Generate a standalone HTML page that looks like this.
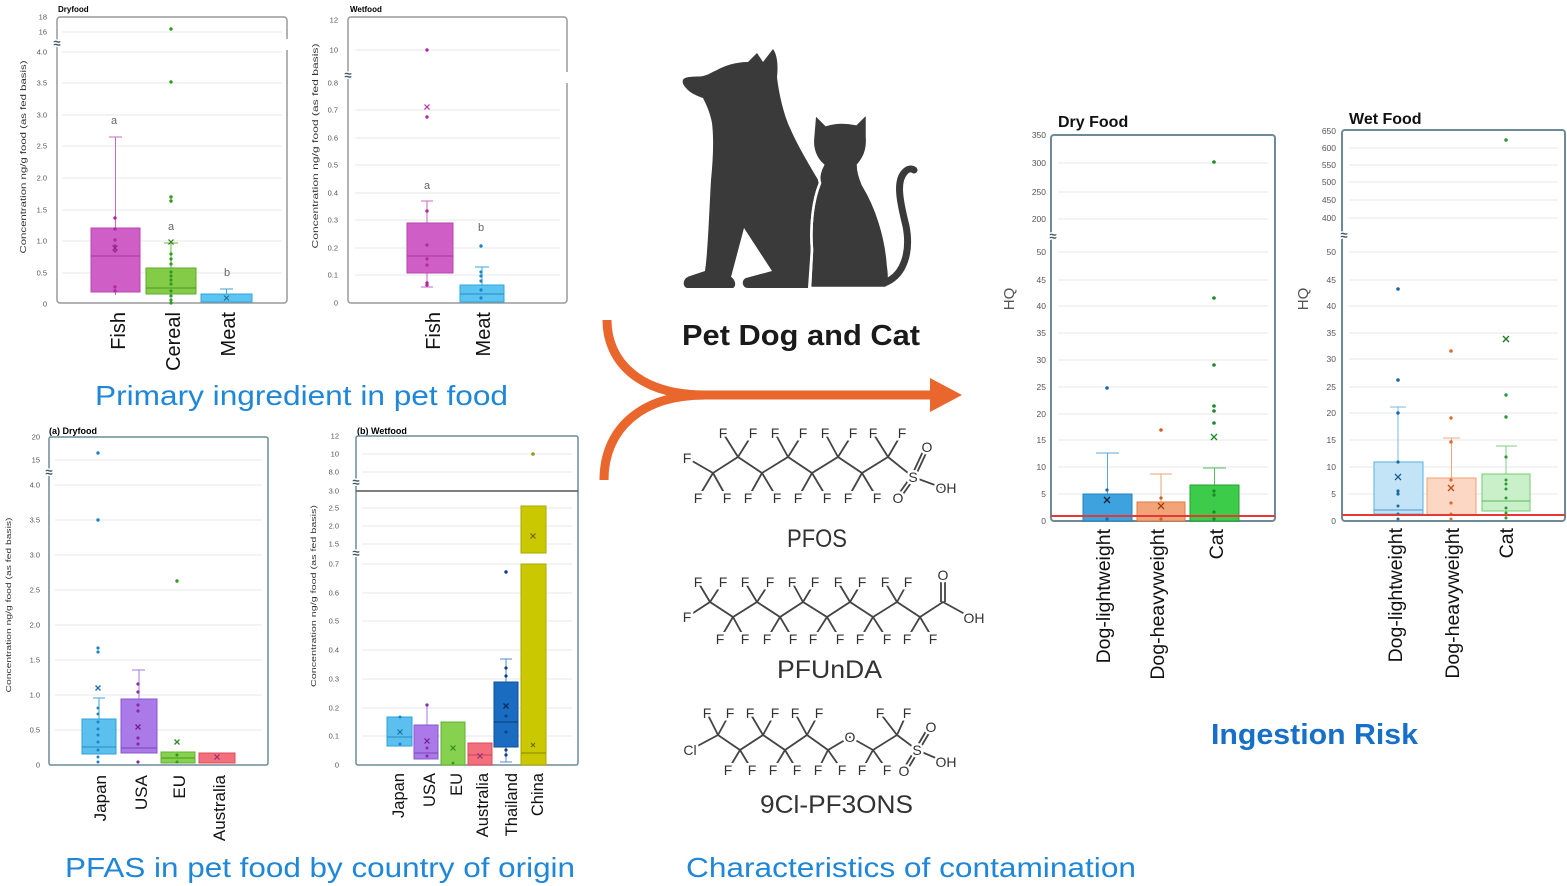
<!DOCTYPE html>
<html><head><meta charset="utf-8">
<style>
html,body{margin:0;padding:0;background:#fff;}
svg{display:block;font-family:"Liberation Sans",Arial,sans-serif;}
.tk{font-size:7.5px;fill:#555;text-anchor:end;}
.tk2{font-size:8.5px;fill:#555;text-anchor:end;}
.g line{stroke:#e7e7e7;stroke-width:1;}
.brk{font-size:13px;fill:#3b5566;font-weight:bold;stroke:#fff;stroke-width:3;paint-order:stroke;text-anchor:middle;dominant-baseline:central;}
.lab{font-size:14px;fill:#333;text-anchor:middle;dominant-baseline:central;stroke:#fff;stroke-width:5;paint-order:stroke;}
.xl{text-anchor:end;fill:#111;}
</style></head>
<body>
<svg width="1567" height="886" viewBox="0 0 1567 886" xmlns="http://www.w3.org/2000/svg">

<!-- ============ Chart 1: Dryfood by ingredient ============ -->
<text x="58" y="12" font-size="8" font-weight="bold">Dryfood</text>
<g class="g">
<line x1="62" x2="282" y1="32" y2="32"/><line x1="62" x2="282" y1="52" y2="52"/><line x1="62" x2="282" y1="83" y2="83"/>
<line x1="62" x2="282" y1="115" y2="115"/><line x1="62" x2="282" y1="146" y2="146"/><line x1="62" x2="282" y1="178" y2="178"/>
<line x1="62" x2="282" y1="210" y2="210"/><line x1="62" x2="282" y1="241" y2="241"/><line x1="62" x2="282" y1="273" y2="273"/>
</g>
<rect x="57" y="17" width="230" height="286" rx="3" fill="none" stroke="#9a9a9a" stroke-width="1.5"/>
<rect x="283" y="39" width="8" height="11" fill="#fff"/>
<g class="tk">
<text x="47" y="19.5">18</text><text x="47" y="34.5">16</text><text x="47" y="54.5">4.0</text><text x="47" y="85.5">3.5</text>
<text x="47" y="117.5">3.0</text><text x="47" y="148.5">2.5</text><text x="47" y="180.5">2.0</text><text x="47" y="212.5">1.5</text>
<text x="47" y="243.5">1.0</text><text x="47" y="275.5">0.5</text><text x="47" y="306.5">0</text>
</g>
<text class="brk" x="57" y="43">≈</text>
<text transform="translate(26,157) rotate(-90)" text-anchor="middle" font-size="8.5" fill="#333" textLength="193" lengthAdjust="spacingAndGlyphs">Concentration ng/g food (as fed basis)</text>
<!-- Fish -->
<g stroke="#cc66c4" stroke-width="1"><line x1="115.5" y1="228" x2="115.5" y2="137"/><line x1="109" y1="137" x2="122" y2="137"/><line x1="115.5" y1="292" x2="115.5" y2="295"/></g>
<rect x="91" y="228" width="49" height="64" fill="#cf5ec7" stroke="#b845b0"/>
<line x1="91" y1="256" x2="140" y2="256" stroke="#a33a9b"/>
<g fill="#b02aa8"><circle cx="115" cy="218" r="1.7"/><circle cx="115" cy="229" r="1.7"/><circle cx="115" cy="240" r="1.7"/><circle cx="115" cy="246" r="1.7"/><circle cx="115" cy="251" r="1.7"/><circle cx="115" cy="287" r="1.7"/><circle cx="115" cy="291" r="1.7"/></g>
<path d="M112.5 245.5l5 5M112.5 250.5l5-5" stroke="#8a2a84" stroke-width="1.2"/>
<!-- Cereal -->
<g stroke="#6ab83a" stroke-width="1"><line x1="171" y1="268" x2="171" y2="243"/><line x1="164" y1="243" x2="178" y2="243"/></g>
<rect x="146" y="268" width="50" height="26" fill="#84cc48" stroke="#5ea82e"/>
<line x1="146" y1="288" x2="196" y2="288" stroke="#4e9426"/>
<g fill="#2f9a20"><circle cx="171" cy="29" r="1.7"/><circle cx="171" cy="82" r="1.7"/><circle cx="171" cy="197" r="1.7"/><circle cx="171" cy="201" r="1.7"/><circle cx="171" cy="254" r="1.6"/><circle cx="171" cy="259" r="1.6"/><circle cx="171" cy="264" r="1.6"/><circle cx="171" cy="272" r="1.6"/><circle cx="171" cy="276" r="1.6"/><circle cx="171" cy="280" r="1.6"/><circle cx="171" cy="284" r="1.6"/><circle cx="171" cy="291" r="1.6"/><circle cx="171" cy="296" r="1.6"/><circle cx="171" cy="300" r="1.6"/><circle cx="171" cy="303" r="1.6"/></g>
<path d="M168.5 239.5l5 5M168.5 244.5l5-5" stroke="#2f7a20" stroke-width="1.2"/>
<!-- Meat -->
<g stroke="#3aa6dc" stroke-width="1"><line x1="226.5" y1="294" x2="226.5" y2="289"/><line x1="220" y1="289" x2="233" y2="289"/></g>
<rect x="201" y="294" width="51" height="8" fill="#5cc4f0" stroke="#33a4dc"/>
<path d="M224 295.5l5 5M224 300.5l5-5" stroke="#1b6ea0" stroke-width="1.1"/>
<g font-size="11" fill="#666" text-anchor="middle"><text x="114" y="124">a</text><text x="171" y="230">a</text><text x="227" y="276">b</text></g>
<g class="xl" font-size="20">
<text transform="translate(125,312) rotate(-90)">Fish</text>
<text transform="translate(180,312) rotate(-90)">Cereal</text>
<text transform="translate(235,312) rotate(-90)">Meat</text>
</g>

<!-- ============ Chart 2: Wetfood by ingredient ============ -->
<text x="350" y="12" font-size="8" font-weight="bold">Wetfood</text>
<g class="g">
<line x1="355" x2="560" y1="50" y2="50"/><line x1="355" x2="560" y1="110" y2="110"/><line x1="355" x2="560" y1="138" y2="138"/>
<line x1="355" x2="560" y1="165" y2="165"/><line x1="355" x2="560" y1="193" y2="193"/><line x1="355" x2="560" y1="220" y2="220"/>
<line x1="355" x2="560" y1="248" y2="248"/><line x1="355" x2="560" y1="275" y2="275"/>
</g>
<rect x="348" y="17" width="219" height="286" rx="3" fill="none" stroke="#9a9a9a" stroke-width="1.5"/>
<rect x="563" y="72" width="8" height="11" fill="#fff"/>
<g class="tk">
<text x="338" y="22.5">12</text><text x="338" y="52.5">10</text><text x="338" y="85.5">0.8</text><text x="338" y="112.5">0.7</text>
<text x="338" y="140.5">0.6</text><text x="338" y="167.5">0.5</text><text x="338" y="195.5">0.4</text><text x="338" y="222.5">0.3</text>
<text x="338" y="250.5">0.2</text><text x="338" y="277.5">0.1</text><text x="338" y="305.5">0</text>
</g>
<text class="brk" x="348" y="75">≈</text>
<text transform="translate(318,146) rotate(-90)" text-anchor="middle" font-size="8.5" fill="#333" textLength="205" lengthAdjust="spacingAndGlyphs">Concentration ng/g food (as fed basis)</text>
<g stroke="#cc66c4" stroke-width="1"><line x1="427" y1="223" x2="427" y2="201"/><line x1="421" y1="201" x2="433" y2="201"/><line x1="427" y1="273" x2="427" y2="287"/><line x1="421" y1="287" x2="433" y2="287"/></g>
<rect x="407" y="223" width="46" height="50" fill="#cf5ec7" stroke="#b845b0"/>
<line x1="407" y1="256" x2="453" y2="256" stroke="#a33a9b"/>
<g fill="#b02aa8"><circle cx="427" cy="50" r="1.7"/><circle cx="427" cy="117" r="1.7"/><circle cx="427" cy="211" r="1.7"/><circle cx="427" cy="245" r="1.6"/><circle cx="427" cy="259" r="1.6"/><circle cx="427" cy="265" r="1.6"/><circle cx="427" cy="283" r="1.7"/><circle cx="427" cy="285" r="1.7"/></g>
<path d="M424.5 104.5l5 5M424.5 109.5l5-5" stroke="#b02aa8" stroke-width="1.2"/>
<g stroke="#3aa6dc" stroke-width="1"><line x1="482" y1="285" x2="482" y2="267"/><line x1="475" y1="267" x2="489" y2="267"/></g>
<rect x="460" y="285" width="44" height="17" fill="#5cc4f0" stroke="#33a4dc"/>
<line x1="460" y1="294" x2="504" y2="294" stroke="#2a8cc0"/>
<g fill="#1a86c8"><circle cx="481" cy="246" r="1.7"/><circle cx="481" cy="272" r="1.6"/><circle cx="481" cy="276" r="1.6"/><circle cx="481" cy="281" r="1.6"/><circle cx="481" cy="290" r="1.6"/><circle cx="481" cy="298" r="1.6"/></g>
<g font-size="11" fill="#666" text-anchor="middle"><text x="427" y="189">a</text><text x="481" y="231">b</text></g>
<g class="xl" font-size="20">
<text transform="translate(440,312) rotate(-90)">Fish</text>
<text transform="translate(490,312) rotate(-90)">Meat</text>
</g>

<text x="95" y="405" font-size="28" fill="#1f86d8" textLength="413" lengthAdjust="spacingAndGlyphs">Primary ingredient in pet food</text>

<!-- ============ Chart 3: (a) Dryfood by country ============ -->
<text x="49" y="434" font-size="9" font-weight="bold">(a) Dryfood</text>
<g class="g">
<line x1="55" x2="262" y1="460" y2="460"/><line x1="55" x2="262" y1="485" y2="485"/><line x1="55" x2="262" y1="520" y2="520"/>
<line x1="55" x2="262" y1="555" y2="555"/><line x1="55" x2="262" y1="590" y2="590"/><line x1="55" x2="262" y1="625" y2="625"/>
<line x1="55" x2="262" y1="660" y2="660"/><line x1="55" x2="262" y1="695" y2="695"/><line x1="55" x2="262" y1="730" y2="730"/>
</g>
<rect x="49" y="437" width="219" height="328" rx="2" fill="none" stroke="#6d8a99" stroke-width="1.5"/>
<g class="tk">
<text x="40" y="439.5">20</text><text x="40" y="462.5">15</text><text x="40" y="487.5">4.0</text><text x="40" y="522.5">3.5</text>
<text x="40" y="557.5">3.0</text><text x="40" y="592.5">2.5</text><text x="40" y="627.5">2.0</text><text x="40" y="662.5">1.5</text>
<text x="40" y="697.5">1.0</text><text x="40" y="732.5">0.5</text><text x="40" y="767.5">0</text>
</g>
<text class="brk" x="49" y="472">≈</text>
<text transform="translate(11,605) rotate(-90)" text-anchor="middle" font-size="7.5" fill="#333" textLength="175" lengthAdjust="spacingAndGlyphs">Concentration ng/g food (as fed basis)</text>
<!-- Japan -->
<g stroke="#3aa6dc"><line x1="99" y1="719" x2="99" y2="698"/><line x1="93" y1="698" x2="105" y2="698"/></g>
<rect x="82" y="719" width="34" height="35" fill="#5bc0ee" stroke="#2ea0d8"/>
<line x1="82" y1="747" x2="116" y2="747" stroke="#2a8cc0"/>
<g fill="#1a86c8"><circle cx="98" cy="453" r="1.7"/><circle cx="98" cy="520" r="1.7"/><circle cx="98" cy="648" r="1.6"/><circle cx="98" cy="652" r="1.6"/><circle cx="98" cy="708" r="1.5"/><circle cx="98" cy="714" r="1.5"/><circle cx="98" cy="722" r="1.5"/><circle cx="98" cy="729" r="1.5"/><circle cx="98" cy="735" r="1.5"/><circle cx="98" cy="742" r="1.5"/><circle cx="98" cy="750" r="1.5"/><circle cx="98" cy="757" r="1.5"/><circle cx="98" cy="762" r="1.5"/></g>
<path d="M95.5 685.5l5 5M95.5 690.5l5-5" stroke="#1a70b0" stroke-width="1.3"/>
<!-- USA -->
<g stroke="#a57ad8"><line x1="139" y1="699" x2="139" y2="670"/><line x1="132" y1="670" x2="145" y2="670"/></g>
<rect x="121" y="699" width="36" height="54" fill="#a97ae8" stroke="#8a55cc"/>
<line x1="121" y1="748" x2="157" y2="748" stroke="#7a45bc"/>
<g fill="#8a2aa8"><circle cx="138" cy="684" r="1.6"/><circle cx="138" cy="692" r="1.6"/><circle cx="138" cy="705" r="1.6"/><circle cx="138" cy="711" r="1.6"/><circle cx="138" cy="738" r="1.6"/><circle cx="138" cy="744" r="1.6"/><circle cx="138" cy="762" r="1.6"/></g>
<path d="M135.5 724.5l5 5M135.5 729.5l5-5" stroke="#7a1a90" stroke-width="1.3"/>
<!-- EU -->
<rect x="161" y="752" width="34" height="11" fill="#86d24e" stroke="#60b030"/>
<line x1="161" y1="758" x2="195" y2="758" stroke="#4e9426"/>
<g fill="#2f9a20"><circle cx="177" cy="581" r="1.7"/><circle cx="177" cy="755" r="1.5"/><circle cx="177" cy="762" r="1.5"/></g>
<path d="M174.5 739.5l5 5M174.5 744.5l5-5" stroke="#2f8a20" stroke-width="1.3"/>
<!-- Australia -->
<rect x="199" y="753" width="36" height="10" fill="#f2707c" stroke="#e04858"/>
<path d="M214.5 754.5l5 5M214.5 759.5l5-5" stroke="#9a2a7a" stroke-width="1.2"/>
<g class="xl" font-size="17">
<text transform="translate(106,775) rotate(-90)">Japan</text>
<text transform="translate(147,775) rotate(-90)">USA</text>
<text transform="translate(185,775) rotate(-90)">EU</text>
<text transform="translate(225,775) rotate(-90)">Australia</text>
</g>

<!-- ============ Chart 4: (b) Wetfood by country ============ -->
<text x="357" y="434" font-size="9" font-weight="bold">(b) Wetfood</text>
<g class="g">
<line x1="362" x2="572" y1="454" y2="454"/><line x1="362" x2="572" y1="472" y2="472"/><line x1="362" x2="572" y1="508" y2="508"/>
<line x1="362" x2="572" y1="526" y2="526"/><line x1="362" x2="572" y1="544" y2="544"/><line x1="362" x2="572" y1="564" y2="564"/>
<line x1="362" x2="572" y1="593" y2="593"/><line x1="362" x2="572" y1="621" y2="621"/><line x1="362" x2="572" y1="650" y2="650"/>
<line x1="362" x2="572" y1="679" y2="679"/><line x1="362" x2="572" y1="708" y2="708"/><line x1="362" x2="572" y1="736" y2="736"/>
</g>
<rect x="356" y="436" width="222" height="329" rx="2" fill="none" stroke="#6d8a99" stroke-width="1.5"/>
<line x1="356" y1="491" x2="578" y2="491" stroke="#555" stroke-width="1.5"/>
<g class="tk">
<text x="339" y="438.5">12</text><text x="339" y="456.5">10</text><text x="339" y="474.5">8.0</text><text x="339" y="493.5">3.0</text>
<text x="339" y="510.5">2.5</text><text x="339" y="528.5">2.0</text><text x="339" y="546.5">1.5</text><text x="339" y="566.5">0.7</text>
<text x="339" y="595.5">0.6</text><text x="339" y="623.5">0.5</text><text x="339" y="652.5">0.4</text><text x="339" y="681.5">0.3</text>
<text x="339" y="710.5">0.2</text><text x="339" y="738.5">0.1</text><text x="339" y="767.5">0</text>
</g>
<text class="brk" x="356" y="482">≈</text>
<text class="brk" x="356" y="553">≈</text>
<text transform="translate(316,596) rotate(-90)" text-anchor="middle" font-size="7.5" fill="#333" textLength="182" lengthAdjust="spacingAndGlyphs">Concentration ng/g food (as fed basis)</text>
<!-- Japan -->
<rect x="387" y="717" width="25" height="29" fill="#5bc0ee" stroke="#2ea0d8"/>
<line x1="387" y1="737" x2="412" y2="737" stroke="#2a8cc0"/>
<g fill="#1a86c8"><circle cx="400" cy="717" r="1.5"/><circle cx="400" cy="744" r="1.5"/></g>
<path d="M397.5 729.5l5 5M397.5 734.5l5-5" stroke="#1a70b0" stroke-width="1.2"/>
<!-- USA -->
<line x1="427" y1="725" x2="427" y2="705" stroke="#a57ad8"/>
<rect x="414" y="725" width="24" height="34" fill="#a97ae8" stroke="#8a55cc"/>
<line x1="414" y1="753" x2="438" y2="753" stroke="#7a45bc"/>
<g fill="#8a2aa8"><circle cx="427" cy="705" r="1.6"/><circle cx="427" cy="748" r="1.5"/><circle cx="427" cy="756" r="1.5"/></g>
<path d="M424.5 738.5l5 5M424.5 743.5l5-5" stroke="#7a1a90" stroke-width="1.2"/>
<!-- EU -->
<rect x="441" y="722" width="24" height="43" fill="#86d24e" stroke="#60b030"/>
<path d="M450.5 745.5l5 5M450.5 750.5l5-5" stroke="#2f8a20" stroke-width="1.2"/>
<circle cx="453" cy="763" r="1.4" fill="#2f9a20"/>
<!-- Australia -->
<rect x="468" y="743" width="24" height="22" fill="#f2707c" stroke="#e04858"/>
<line x1="468" y1="755" x2="492" y2="755" stroke="#d04050"/>
<path d="M477.5 753.5l5 5M477.5 758.5l5-5" stroke="#9a2a7a" stroke-width="1.2"/>
<!-- Thailand -->
<g stroke="#5a8ad0"><line x1="506" y1="682" x2="506" y2="659"/><line x1="500" y1="659" x2="512" y2="659"/><line x1="506" y1="747" x2="506" y2="762"/><line x1="500" y1="762" x2="512" y2="762"/></g>
<rect x="494" y="682" width="24" height="65" fill="#1a6cc0" stroke="#0e4f98"/>
<line x1="494" y1="722" x2="518" y2="722" stroke="#0a3c78"/>
<g fill="#0c3f8a"><circle cx="506" cy="572" r="1.7"/><circle cx="506" cy="668" r="1.6"/><circle cx="506" cy="676" r="1.6"/><circle cx="506" cy="716" r="1.5"/><circle cx="506" cy="732" r="1.5"/><circle cx="506" cy="750" r="1.6"/><circle cx="506" cy="755" r="1.6"/></g>
<path d="M503.5 703.5l5 5M503.5 708.5l5-5" stroke="#0a2a60" stroke-width="1.3"/>
<!-- China -->
<rect x="521" y="506" width="25" height="47" fill="#cac800" stroke="#aaa800"/>
<rect x="521" y="564" width="25" height="201" fill="#cac800" stroke="#aaa800"/>
<line x1="521" y1="753" x2="546" y2="753" stroke="#8a8800"/>
<circle cx="533" cy="454" r="1.8" fill="#9a9800"/>
<path d="M530.5 533.5l5 5M530.5 538.5l5-5" stroke="#6a6800" stroke-width="1.2"/>
<path d="M531 743l4 4M531 747l4-4" stroke="#6a6800" stroke-width="1.1"/>
<g class="xl" font-size="16.5">
<text transform="translate(404,773) rotate(-90)">Japan</text>
<text transform="translate(435,773) rotate(-90)">USA</text>
<text transform="translate(462,773) rotate(-90)">EU</text>
<text transform="translate(488,773) rotate(-90)">Australia</text>
<text transform="translate(517,773) rotate(-90)">Thailand</text>
<text transform="translate(543,773) rotate(-90)">China</text>
</g>

<text x="65" y="877" font-size="28" fill="#1f86d8" textLength="510" lengthAdjust="spacingAndGlyphs">PFAS in pet food by country of origin</text>

<!-- ============ Middle: animals, arrow, structures ============ -->
<path d="M683,80 C684,77 690,76.5 700,76.5 C707,76 712,72 717,70 C724,66 735,62 748,62 L757,53 L763,62 L773,49 C778,56 778,68 777,77 C779,95 784,115 790,128 C796,142 806,160 820,183 L812,230 L808,288 L748,288 C742,288 741,280 746,278 L772,271 L744,228 L731,277 C735,279 737,286 733,288 L688,288 C682,288 682,278 690,276 L705,271 C708,250 709,215 711,180 C713,160 714,140 712,123 C710,113 707,106 703,98 C697,96 690,93 686,88 C683,85 682,82 683,80 Z" fill="#3a3a3a"/>
<path d="M810,288 L812,250 C810,225 813,200 820,183 C818,177 820,170 823,165 C815,158 812,148 813,138 L815,114 L826,125 C835,122 846,122 856,124 L867,113 L867,137 C868,150 864,158 858,165 C858,172 860,178 863,185 C876,206 886,236 888,265 C890,278 889,285 886,288 Z" fill="#3a3a3a" stroke="#fff" stroke-width="2.5"/>
<path d="M884,283 C904,276 911,252 906,226 C900,202 896,182 904,173 C907,169 911,168 914,170" fill="none" stroke="#3a3a3a" stroke-width="7" stroke-linecap="round"/>
<path d="M810,288 L812,250 C810,225 813,200 820,183 C818,177 820,170 823,165" fill="none" stroke="#fff" stroke-width="2.5"/>

<text x="682" y="345" font-size="29" font-weight="bold" fill="#1a1a1a" textLength="238" lengthAdjust="spacingAndGlyphs">Pet Dog and Cat</text>

<g fill="none" stroke="#e9662c" stroke-width="9">
<path d="M607,320 C607,362 640,395 705,395"/>
<path d="M604,480 C604,430 640,395 705,395"/>
<path d="M700,395 L934,395"/>
</g>
<polygon points="930,378 962,395 930,412" fill="#e9662c"/>

<!-- PFOS -->
<g stroke="#444" stroke-width="1.8" fill="none">
<path d="M687,458 L713,473 L738,457 L762,473 L788,457 L812,473 L838,457 L862,473 L888,457 L913,477 L943,488"/>
<path d="M713,473L698,498M713,473L727,498M738,457L723,433M738,457L753,433M762,473L748,498M762,473L777,498M788,457L775,433M788,457L803,433M812,473L798,498M812,473L827,498M838,457L825,433M838,457L853,433M862,473L848,498M862,473L877,498M888,457L873,433M888,457L902,433"/>
<path d="M911.4,476.3L925.4,446.3M914.6,477.7L928.6,447.7M914.5,478L899.5,499M911.5,476L896.5,497"/>
</g>
<g class="lab">
<text x="687" y="458">F</text>
<text x="698" y="498">F</text><text x="727" y="498">F</text><text x="748" y="498">F</text><text x="777" y="498">F</text><text x="798" y="498">F</text><text x="827" y="498">F</text><text x="848" y="498">F</text><text x="877" y="498">F</text>
<text x="723" y="433">F</text><text x="753" y="433">F</text><text x="775" y="433">F</text><text x="803" y="433">F</text><text x="825" y="433">F</text><text x="853" y="433">F</text><text x="873" y="433">F</text><text x="902" y="433">F</text>
<text x="913" y="477">S</text><text x="927" y="447">O</text><text x="898" y="498">O</text><text x="946" y="488">OH</text>
</g>
<text x="787" y="547" font-size="25" fill="#333" textLength="60" lengthAdjust="spacingAndGlyphs">PFOS</text>

<!-- PFUnDA -->
<g stroke="#444" stroke-width="1.8" fill="none">
<path d="M687,617 L710,602 L733,617 L757,602 L780,617 L803,602 L827,617 L850,602 L873,617 L897,602 L920,617 L943,602 L972,618"/>
<path d="M710,602L698,582M710,602L723,582M733,617L720,639M733,617L745,639M757,602L745,582M757,602L770,582M780,617L767,639M780,617L793,639M803,602L792,582M803,602L815,582M827,617L813,639M827,617L840,639M850,602L838,582M850,602L862,582M873,617L860,639M873,617L887,639M897,602L885,582M897,602L908,582M920,617L907,639M920,617L933,639"/>
<path d="M941,602L941,577M945,602L945,577"/>
</g>
<g class="lab">
<text x="687" y="617">F</text>
<text x="698" y="582">F</text><text x="723" y="582">F</text><text x="745" y="582">F</text><text x="770" y="582">F</text><text x="792" y="582">F</text><text x="815" y="582">F</text><text x="838" y="582">F</text><text x="862" y="582">F</text><text x="885" y="582">F</text><text x="908" y="582">F</text>
<text x="720" y="639">F</text><text x="745" y="639">F</text><text x="767" y="639">F</text><text x="793" y="639">F</text><text x="813" y="639">F</text><text x="840" y="639">F</text><text x="860" y="639">F</text><text x="887" y="639">F</text><text x="907" y="639">F</text><text x="933" y="639">F</text>
<text x="943" y="575">O</text><text x="974" y="618">OH</text>
</g>
<text x="777" y="678" font-size="25" fill="#333" textLength="105" lengthAdjust="spacingAndGlyphs">PFUnDA</text>

<!-- 9Cl-PF3ONS -->
<g stroke="#444" stroke-width="1.8" fill="none">
<path d="M690,750 L718,735 L740,750 L763,735 L785,750 L807,735 L828,750 L850,737 L873,750 L897,735 L917,750 L945,762"/>
<path d="M718,735L707,713M718,735L730,713M740,750L728,770M740,750L752,770M763,735L750,713M763,735L775,713M785,750L773,770M785,750L797,770M807,735L795,713M807,735L819,713M828,750L818,770M828,750L842,770M873,750L862,770M873,750L887,770M897,735L880,713M897,735L907,713"/>
<path d="M915.5,749L928.5,727M918.5,751L931.5,729M918.5,751L906.5,771M915.5,749L903.5,769"/>
</g>
<g class="lab">
<text x="690" y="750">Cl</text>
<text x="707" y="713">F</text><text x="730" y="713">F</text><text x="750" y="713">F</text><text x="775" y="713">F</text><text x="795" y="713">F</text><text x="819" y="713">F</text><text x="880" y="713">F</text><text x="907" y="713">F</text>
<text x="728" y="770">F</text><text x="752" y="770">F</text><text x="773" y="770">F</text><text x="797" y="770">F</text><text x="818" y="770">F</text><text x="842" y="770">F</text><text x="862" y="770">F</text><text x="887" y="770">F</text>
<text x="850" y="737">O</text><text x="917" y="750">S</text><text x="931" y="727">O</text><text x="904" y="771">O</text><text x="946" y="762">OH</text>
</g>
<text x="760" y="813" font-size="25" fill="#333" textLength="153" lengthAdjust="spacingAndGlyphs">9Cl-PF3ONS</text>

<text x="686" y="877" font-size="28" fill="#1f86d8" textLength="450" lengthAdjust="spacingAndGlyphs">Characteristics of contamination</text>

<!-- ============ Right: Dry Food HQ ============ -->
<text x="1058" y="127" font-size="16" font-weight="bold" fill="#111">Dry Food</text>
<g class="g">
<line x1="1058" x2="1268" y1="163" y2="163"/><line x1="1058" x2="1268" y1="192" y2="192"/><line x1="1058" x2="1268" y1="219" y2="219"/>
<line x1="1058" x2="1268" y1="252" y2="252"/><line x1="1058" x2="1268" y1="280" y2="280"/><line x1="1058" x2="1268" y1="306" y2="306"/>
<line x1="1058" x2="1268" y1="333" y2="333"/><line x1="1058" x2="1268" y1="360" y2="360"/><line x1="1058" x2="1268" y1="387" y2="387"/>
<line x1="1058" x2="1268" y1="414" y2="414"/><line x1="1058" x2="1268" y1="440" y2="440"/><line x1="1058" x2="1268" y1="467" y2="467"/>
<line x1="1058" x2="1268" y1="494" y2="494"/>
</g>
<rect x="1051" y="135" width="224" height="386" rx="3" fill="none" stroke="#6d8a99" stroke-width="2"/>
<g class="tk2">
<text x="1046" y="138">350</text><text x="1046" y="166">300</text><text x="1046" y="195">250</text><text x="1046" y="222">200</text>
<text x="1046" y="255">50</text><text x="1046" y="283">45</text><text x="1046" y="309">40</text><text x="1046" y="336">35</text>
<text x="1046" y="363">30</text><text x="1046" y="390">25</text><text x="1046" y="417">20</text><text x="1046" y="443">15</text>
<text x="1046" y="470">10</text><text x="1046" y="497">5</text><text x="1046" y="524">0</text>
</g>
<text class="brk" x="1053" y="236">≈</text>
<text transform="translate(1014,299) rotate(-90)" text-anchor="middle" font-size="15" fill="#555">HQ</text>
<!-- Dog-light -->
<g stroke="#5aa8d8"><line x1="1107.5" y1="494" x2="1107.5" y2="453"/><line x1="1096" y1="453" x2="1119" y2="453"/></g>
<rect x="1083" y="494" width="49" height="27" fill="#3ea2de" stroke="#2080c0"/>
<g fill="#1a6aa0"><circle cx="1107" cy="388" r="1.8"/><circle cx="1107" cy="490" r="1.6"/><circle cx="1107" cy="519" r="1.6"/></g>
<path d="M1104 497l6 6M1104 503l6-6" stroke="#123" stroke-width="1.3"/>
<!-- Dog-heavy -->
<g stroke="#eea070"><line x1="1161" y1="502" x2="1161" y2="474"/><line x1="1150" y1="474" x2="1172" y2="474"/></g>
<rect x="1137" y="502" width="48" height="19" fill="#f2a478" stroke="#e07a40"/>
<g fill="#d06020"><circle cx="1161" cy="430" r="1.8"/><circle cx="1161" cy="498" r="1.6"/><circle cx="1161" cy="519" r="1.6"/></g>
<path d="M1158 503l6 6M1158 509l6-6" stroke="#a04010" stroke-width="1.3"/>
<!-- Cat -->
<g stroke="#50c060"><line x1="1214.5" y1="485" x2="1214.5" y2="468"/><line x1="1203" y1="468" x2="1226" y2="468"/></g>
<rect x="1190" y="485" width="49" height="36" fill="#3ccc4a" stroke="#22a030"/>
<g fill="#1a8a2a"><circle cx="1214" cy="162" r="1.8"/><circle cx="1214" cy="298" r="1.8"/><circle cx="1214" cy="365" r="1.8"/><circle cx="1214" cy="406" r="1.8"/><circle cx="1214" cy="411" r="1.8"/><circle cx="1214" cy="423" r="1.8"/><circle cx="1214" cy="491" r="1.6"/><circle cx="1214" cy="495" r="1.6"/><circle cx="1214" cy="512" r="1.6"/><circle cx="1214" cy="519" r="1.6"/></g>
<path d="M1211 434l6 6M1211 440l6-6" stroke="#1a8a2a" stroke-width="1.3"/>
<line x1="1051" y1="516" x2="1275" y2="516" stroke="#e53935" stroke-width="2"/>
<g class="xl" font-size="19.5">
<text transform="translate(1110,529) rotate(-90)">Dog-lightweight</text>
<text transform="translate(1164,529) rotate(-90)">Dog-heavyweight</text>
<text transform="translate(1223,529) rotate(-90)">Cat</text>
</g>

<!-- ============ Right: Wet Food HQ ============ -->
<text x="1349" y="124" font-size="16" font-weight="bold" fill="#111">Wet Food</text>
<g class="g">
<line x1="1349" x2="1558" y1="148" y2="148"/><line x1="1349" x2="1558" y1="165" y2="165"/><line x1="1349" x2="1558" y1="182" y2="182"/>
<line x1="1349" x2="1558" y1="200" y2="200"/><line x1="1349" x2="1558" y1="218" y2="218"/><line x1="1349" x2="1558" y1="252" y2="252"/>
<line x1="1349" x2="1558" y1="280" y2="280"/><line x1="1349" x2="1558" y1="306" y2="306"/><line x1="1349" x2="1558" y1="333" y2="333"/>
<line x1="1349" x2="1558" y1="359" y2="359"/><line x1="1349" x2="1558" y1="387" y2="387"/><line x1="1349" x2="1558" y1="413" y2="413"/>
<line x1="1349" x2="1558" y1="440" y2="440"/><line x1="1349" x2="1558" y1="467" y2="467"/><line x1="1349" x2="1558" y1="494" y2="494"/>
</g>
<rect x="1342" y="130" width="223" height="391" rx="3" fill="none" stroke="#6d8a99" stroke-width="2"/>
<g class="tk2">
<text x="1336" y="134">650</text><text x="1336" y="151">600</text><text x="1336" y="168">550</text><text x="1336" y="185">500</text>
<text x="1336" y="203">450</text><text x="1336" y="221">400</text>
<text x="1336" y="255">50</text><text x="1336" y="283">45</text><text x="1336" y="309">40</text><text x="1336" y="336">35</text>
<text x="1336" y="362">30</text><text x="1336" y="390">25</text><text x="1336" y="416">20</text><text x="1336" y="443">15</text>
<text x="1336" y="470">10</text><text x="1336" y="497">5</text><text x="1336" y="524">0</text>
</g>
<text class="brk" x="1344" y="235">≈</text>
<text transform="translate(1308,299) rotate(-90)" text-anchor="middle" font-size="15" fill="#555">HQ</text>
<!-- Dog-light -->
<g stroke="#7ab8e0"><line x1="1398" y1="462" x2="1398" y2="407"/><line x1="1390" y1="407" x2="1406" y2="407"/></g>
<rect x="1374" y="462" width="49" height="52" fill="#c2e4f6" stroke="#5ab0e0"/>
<line x1="1374" y1="510" x2="1423" y2="510" stroke="#4a9ad0"/>
<g fill="#1a6aa0"><circle cx="1398" cy="289" r="1.8"/><circle cx="1398" cy="380" r="1.8"/><circle cx="1398" cy="413" r="1.7"/><circle cx="1398" cy="462" r="1.6"/><circle cx="1398" cy="491" r="1.6"/><circle cx="1398" cy="494" r="1.6"/><circle cx="1398" cy="506" r="1.5"/><circle cx="1398" cy="514" r="1.5"/><circle cx="1398" cy="519" r="1.5"/></g>
<path d="M1395 474l6 6M1395 480l6-6" stroke="#1a5a90" stroke-width="1.3"/>
<!-- Dog-heavy -->
<g stroke="#f0a880"><line x1="1451.5" y1="478" x2="1451.5" y2="438"/><line x1="1443" y1="438" x2="1460" y2="438"/></g>
<rect x="1427" y="478" width="49" height="37" fill="#fcd8c4" stroke="#f0a070"/>
<g fill="#e06a30"><circle cx="1451" cy="351" r="1.8"/><circle cx="1451" cy="418" r="1.7"/><circle cx="1451" cy="442" r="1.7"/><circle cx="1451" cy="480" r="1.6"/><circle cx="1451" cy="503" r="1.6"/><circle cx="1451" cy="514" r="1.5"/><circle cx="1451" cy="519" r="1.5"/></g>
<path d="M1448 485l6 6M1448 491l6-6" stroke="#c04a10" stroke-width="1.3"/>
<!-- Cat -->
<g stroke="#80cc80"><line x1="1506" y1="474" x2="1506" y2="446"/><line x1="1496" y1="446" x2="1517" y2="446"/><line x1="1506" y1="511" x2="1506" y2="519"/></g>
<rect x="1482" y="474" width="48" height="37" fill="#c9f0c8" stroke="#72cc72"/>
<line x1="1482" y1="501" x2="1530" y2="501" stroke="#5ab85a"/>
<g fill="#2a9a3a"><circle cx="1506" cy="140" r="1.8"/><circle cx="1506" cy="395" r="1.7"/><circle cx="1506" cy="417" r="1.7"/><circle cx="1506" cy="457" r="1.6"/><circle cx="1506" cy="480" r="1.5"/><circle cx="1506" cy="484" r="1.5"/><circle cx="1506" cy="489" r="1.5"/><circle cx="1506" cy="498" r="1.5"/><circle cx="1506" cy="508" r="1.5"/><circle cx="1506" cy="513" r="1.5"/><circle cx="1506" cy="518" r="1.5"/></g>
<path d="M1503 336l6 6M1503 342l6-6" stroke="#1a7a2a" stroke-width="1.4"/>
<line x1="1342" y1="515" x2="1565" y2="515" stroke="#e53935" stroke-width="2"/>
<g class="xl" font-size="19.5">
<text transform="translate(1402,528) rotate(-90)">Dog-lightweight</text>
<text transform="translate(1459,528) rotate(-90)">Dog-heavyweight</text>
<text transform="translate(1513,528) rotate(-90)">Cat</text>
</g>

<text x="1211" y="744" font-size="29" font-weight="bold" fill="#1670c8" textLength="207" lengthAdjust="spacingAndGlyphs">Ingestion Risk</text>

</svg>
</body></html>
